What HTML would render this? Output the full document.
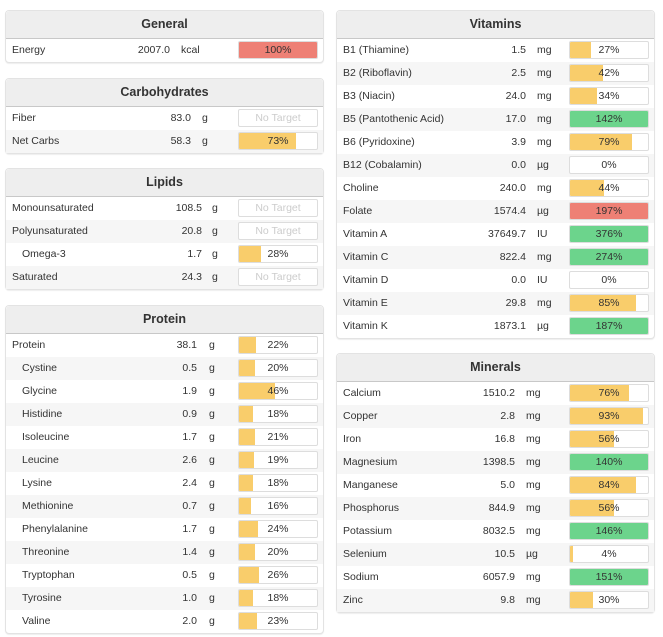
<!DOCTYPE html>
<html><head><meta charset="utf-8"><style>
body{margin:0;width:663px;height:637px;background:#fff;font-family:"Liberation Sans",sans-serif;font-size:10.5px;color:#333;position:relative;overflow:hidden}
.panel{position:absolute;border:1px solid #e3e3e3;border-radius:4px;background:#fff;box-sizing:border-box;box-shadow:0 1px 1px #eee}
.hdr{height:27px;background:#eee;border-bottom:1px solid #c8c8c8;text-align:center;line-height:27px;font-weight:bold;font-size:12.5px;color:#333;border-radius:4px 4px 0 0}
.row{position:relative;height:23px;line-height:23px}
.row:nth-child(even){background:#f6f6f6}
.nm{position:absolute;left:6px}
.val{position:absolute;text-align:right;width:80px}
.unit{position:absolute}
.bar{position:absolute;top:2px;height:18px;width:80px;box-sizing:border-box;border:1px solid #ddd;border-radius:2px;background:#fff;overflow:hidden;line-height:16px;text-align:center}
.fill{position:absolute;left:0;top:0;bottom:0}
.bt{position:relative}
.nt{color:#ccc}
</style></head><body>
<script>
const panels=[
{name:'General',x:5,y:10,vr:169,ux:180,rows:[['Energy','2007.0','kcal',100,'r']]},
{name:'Carbohydrates',x:5,y:78,vr:190,ux:201,rows:[['Fiber','83.0','g',null],['Net Carbs','58.3','g',73,'y']]},
{name:'Lipids',x:5,y:168,vr:201,ux:211,rows:[['Monounsaturated','108.5','g',null],['Polyunsaturated','20.8','g',null],['Omega-3','1.7','g',28,'y',1],['Saturated','24.3','g',null]]},
{name:'Protein',x:5,y:305,vr:196,ux:208,rows:[['Protein','38.1','g',22,'y'],['Cystine','0.5','g',20,'y',1],['Glycine','1.9','g',46,'y',1],['Histidine','0.9','g',18,'y',1],['Isoleucine','1.7','g',21,'y',1],['Leucine','2.6','g',19,'y',1],['Lysine','2.4','g',18,'y',1],['Methionine','0.7','g',16,'y',1],['Phenylalanine','1.7','g',24,'y',1],['Threonine','1.4','g',20,'y',1],['Tryptophan','0.5','g',26,'y',1],['Tyrosine','1.0','g',18,'y',1],['Valine','2.0','g',23,'y',1]]},
{name:'Vitamins',x:336,y:10,vr:525,ux:536,rows:[['B1 (Thiamine)','1.5','mg',27,'y'],['B2 (Riboflavin)','2.5','mg',42,'y'],['B3 (Niacin)','24.0','mg',34,'y'],['B5 (Pantothenic Acid)','17.0','mg',142,'g'],['B6 (Pyridoxine)','3.9','mg',79,'y'],['B12 (Cobalamin)','0.0','µg',0,'y'],['Choline','240.0','mg',44,'y'],['Folate','1574.4','µg',197,'r'],['Vitamin A','37649.7','IU',376,'g'],['Vitamin C','822.4','mg',274,'g'],['Vitamin D','0.0','IU',0,'y'],['Vitamin E','29.8','mg',85,'y'],['Vitamin K','1873.1','µg',187,'g']]},
{name:'Minerals',x:336,y:353,vr:514,ux:525,rows:[['Calcium','1510.2','mg',76,'y'],['Copper','2.8','mg',93,'y'],['Iron','16.8','mg',56,'y'],['Magnesium','1398.5','mg',140,'g'],['Manganese','5.0','mg',84,'y'],['Phosphorus','844.9','mg',56,'y'],['Potassium','8032.5','mg',146,'g'],['Selenium','10.5','µg',4,'y'],['Sodium','6057.9','mg',151,'g'],['Zinc','9.8','mg',30,'y']]}
];
const col={y:'#f9cd6b',g:'#6cd48c',r:'#ee8075'};
panels.forEach(p=>{
 const d=document.createElement('div');d.className='panel';
 
 
 d.style.left=p.x+'px';d.style.top=p.y+'px';d.style.width='319px';
 d.style.height=(28+23*p.rows.length+2)+'px';
 let h='<div class="hdr">'+p.name+'</div><div>';
 p.rows.forEach(r=>{
  let bar;
  if(r[3]===null) bar='<div class="bar" style="left:232px"><span class="bt nt">No Target</span></div>';
  else bar='<div class="bar" style="left:232px"><div class="fill" style="width:'+Math.min(r[3],100)+'%;background:'+col[r[4]]+'"></div><span class="bt">'+r[3]+'%</span></div>';
  h+='<div class="row"><span class="nm" style="left:'+(r[5]?16:6)+'px">'+r[0]+'</span><span class="val" style="left:'+(p.vr-p.x-80)+'px">'+r[1]+'</span><span class="unit" style="left:'+(p.ux-p.x)+'px">'+r[2]+'</span>'+bar+'</div>';
 });
 d.innerHTML=h+'</div>';
 document.body.appendChild(d);
});
</script>
</body></html>
